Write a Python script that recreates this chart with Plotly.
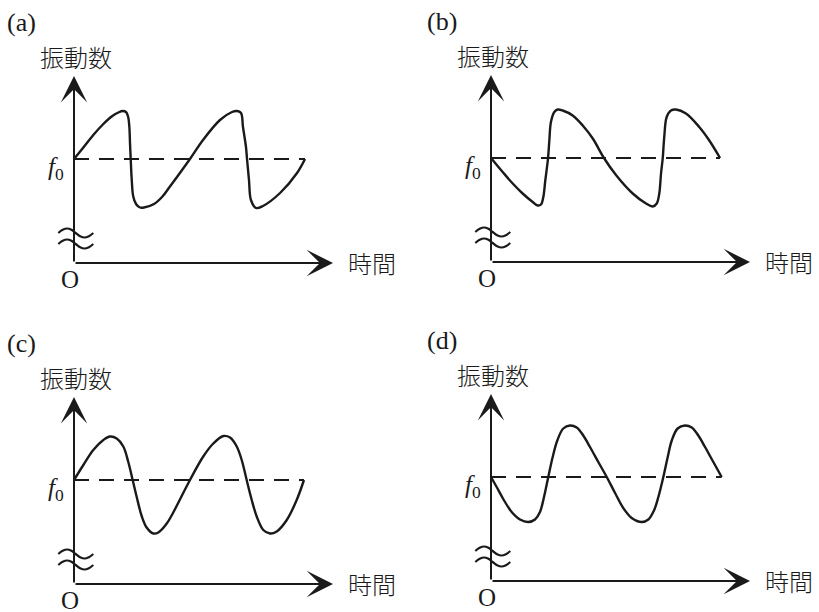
import plotly.graph_objects as go

# ---------------- data ----------------
PANEL_LABELS = ["(a)", "(b)", "(c)", "(d)"]
Y_LABEL = "振動数"
X_LABEL = "時間"
ORIGIN_LABEL = "O"
F0_LABEL = "<i>f</i><sub>0</sub>"
F0 = 100.0

# (a) slow rise, sharp drop
A_T = [0, 0.81, 1.67, 2.54, 3.26, 3.84, 4.22, 4.50, 4.68, 4.79, 4.85, 4.91, 5.00, 5.13,
       5.37, 5.71, 6.06, 6.93, 7.62, 8.31, 10.04, 11.17, 12.64, 13.68, 14.11, 14.46,
       14.63, 14.89, 14.98, 15.15, 15.32, 15.76, 16.36, 17.84, 19.31, 20.0]
A_F = [100, 102.3, 104.8, 107.0, 108.5, 109.3, 109.6, 109.4, 108.5, 106.5, 103.1, 100,
       95.8, 92.5, 91.0, 90.3, 90.3, 91.0, 92.4, 94.5, 100, 103.8, 107.8, 109.4, 109.6,
       109.2, 106.4, 102.4, 100, 95.8, 91.8, 90.2, 90.6, 93.2, 97.2, 100]

# (b) slow fall, sharp rise
B_T = [0, 1.01, 1.88, 2.74, 3.61, 4.04, 4.33, 4.53, 4.70, 4.94, 5.05, 5.19, 5.48, 5.77,
       6.21, 7.07, 7.94, 8.81, 9.78, 10.82, 12.27, 13.42, 14.0, 14.35, 14.57, 14.72,
       14.87, 15.0, 15.21, 15.58, 16.02, 16.88, 18.03, 18.9, 19.83]
B_F = [100, 97.2, 94.9, 92.9, 91.2, 90.5, 90.7, 92.2, 95.5, 100, 103.5, 107.2, 109.2,
       109.7, 109.5, 108.5, 106.5, 103.9, 100, 96.6, 92.9, 90.9, 90.3, 90.9, 92.9, 96.9,
       100, 104.2, 108.2, 109.5, 109.7, 108.9, 106.2, 103.5, 100]

# (c) smooth, rises first
C_T = [0, 0.81, 1.67, 2.54, 3.12, 3.70, 4.27, 4.70, 5.08, 5.43, 5.86, 6.29, 6.87, 7.30,
       8.03, 8.57, 10.04, 11.19, 12.06, 12.93, 13.51, 14.09, 14.52, 14.95, 15.39, 15.82,
       16.39, 16.97, 17.55, 18.42, 19.28, 19.91]
C_F = [100, 103, 106, 108, 108.7, 108.3, 106.7, 103.6, 100, 96.6, 92.8, 90.5, 89.3, 89.5,
       91.3, 93.4, 100, 104.7, 107.3, 108.8, 108.5, 106.7, 104, 100, 96, 92.7, 90, 89.3,
       89.7, 92, 96, 100]

# (d) smooth, falls first
D_T = [0, 0.49, 1.06, 1.79, 2.51, 3.23, 3.81, 4.24, 4.59, 4.96, 5.34, 5.74, 6.26, 6.84,
       7.42, 7.99, 8.57, 9.29, 10.02, 10.74, 11.45, 12.18, 13.05, 13.62, 14.11, 14.49,
       14.92, 15.30, 15.65, 16.16, 16.80, 17.38, 17.95, 18.53, 19.25, 19.97]
D_F = [100, 98, 95.6, 93, 91.5, 91, 91.5, 93, 96, 100, 104, 107.3, 109.7, 110.3, 109.9,
       108.3, 106, 103, 100, 96.8, 93.8, 91.8, 91, 91.5, 93.3, 96, 100, 104, 107.3, 109.7,
       110.3, 109.9, 108.3, 106, 103, 100]

SERIES_T = [A_T, B_T, C_T, D_T]
SERIES_F = [A_F, B_F, C_F, D_F]

# axis-break symbol (one wave, offsets in data units)
WAVE_T = [-1.36, -0.98, -0.60, -0.22, 0.15, 0.53, 0.91, 1.29, 1.67]
WAVE_DF = [0, 0.64, 0.9, 0.64, 0, -0.64, -0.9, -0.64, 0]

# ---------------- layout geometry ----------------
W, H = 819, 612
PX_T = 11.55   # pixels per time unit
PX_F = 5.0     # pixels per frequency unit
ORIGINS = [(74, 159), (491, 158), (74, 480), (491, 477)]  # pixel position of (t=0, f0)
AXIS_DOWN = 104   # px from f0 line down to the time axis
YTIP_UP = 83      # px from f0 line up to y arrow tip
XTIP = 259        # px from y axis to x arrow tip
WAVE_UP = [30, 19]  # px above the time axis

BLACK = "#1a1a1a"
SERIF = "Liberation Serif, Times New Roman, serif"
CJK = "Noto Sans CJK JP, sans-serif"

fig = go.Figure()
annotations = []

for i, (x0, y0) in enumerate(ORIGINS):
    sfx = "" if i == 0 else str(i + 1)
    xa, ya = "x" + sfx, "y" + sfx

    def tx(px):
        return px / PX_T

    def fy(px_down):
        return F0 - px_down / PX_F

    f_axis = fy(AXIS_DOWN)
    f_tip = fy(-YTIP_UP)
    t_tip = tx(XTIP)

    T, Fv = SERIES_T[i], SERIES_F[i]

    # dashed f0 reference
    fig.add_trace(go.Scatter(x=[T[0], T[-1]], y=[F0, F0], mode="lines", xaxis=xa, yaxis=ya,
                             line=dict(color=BLACK, width=2, dash="15px,10px"),
                             showlegend=False, hoverinfo="skip"))
    # curve
    fig.add_trace(go.Scatter(x=T, y=Fv, mode="lines", xaxis=xa, yaxis=ya,
                             line=dict(color=BLACK, width=2.4, shape="spline", smoothing=1.0),
                             showlegend=False, hoverinfo="skip"))
    # break waves
    for up in WAVE_UP:
        fb = f_axis + up / PX_F
        fig.add_trace(go.Scatter(x=WAVE_T, y=[fb + d for d in WAVE_DF], mode="lines",
                                 xaxis=xa, yaxis=ya,
                                 line=dict(color=BLACK, width=2.2, shape="spline"),
                                 showlegend=False, hoverinfo="skip"))

    # axes with arrows
    annotations.append(dict(xref=xa, yref=ya, axref=xa, ayref=ya, x=0, y=f_tip, ax=0, ay=f_axis,
                            text="", showarrow=True, arrowhead=3, arrowsize=2.2, arrowwidth=2,
                            arrowcolor=BLACK, standoff=0))
    annotations.append(dict(xref=xa, yref=ya, axref=xa, ayref=ya, x=t_tip, y=f_axis, ax=0, ay=f_axis,
                            text="", showarrow=True, arrowhead=3, arrowsize=2.2, arrowwidth=2,
                            arrowcolor=BLACK, standoff=0))

    # labels
    lx = -53 if i % 2 == 0 else -49
    annotations.append(dict(xref=xa, yref=ya, x=tx(lx), y=fy(-137), text=PANEL_LABELS[i],
                            showarrow=False, font=dict(family=SERIF, size=26, color=BLACK)))
    annotations.append(dict(xref=xa, yref=ya, x=tx(2), y=fy(-103), text=Y_LABEL,
                            showarrow=False, font=dict(family=CJK, size=24, color=BLACK, weight=300)))
    annotations.append(dict(xref=xa, yref=ya, x=tx(-8), y=fy(9), text=F0_LABEL, xanchor="right",
                            showarrow=False, font=dict(family=SERIF, size=25, color=BLACK)))
    annotations.append(dict(xref=xa, yref=ya, x=tx(-4), y=fy(AXIS_DOWN + 16), text=ORIGIN_LABEL,
                            showarrow=False, font=dict(family=SERIF, size=25, color=BLACK)))
    annotations.append(dict(xref=xa, yref=ya, x=tx(XTIP + 13), y=fy(AXIS_DOWN - 1), text=X_LABEL,
                            xanchor="left", showarrow=False,
                            font=dict(family=CJK, size=24, color=BLACK, weight=300)))

    fig.layout["xaxis" + sfx] = dict(domain=[0, 1], range=[tx(-x0), tx(W - x0)], visible=False,
                                     anchor=ya, fixedrange=True)
    fig.layout["yaxis" + sfx] = dict(domain=[0, 1], range=[fy(H - y0), fy(-y0)], visible=False,
                                     anchor=xa, fixedrange=True)

fig.update_layout(width=W, height=H, margin=dict(l=0, r=0, t=0, b=0),
                  paper_bgcolor="white", plot_bgcolor="rgba(0,0,0,0)",
                  annotations=annotations, showlegend=False)

fig.write_html("out.html", config={"staticPlot": True},
               post_script="document.body.style.margin='0px';document.body.style.overflow='hidden';")
